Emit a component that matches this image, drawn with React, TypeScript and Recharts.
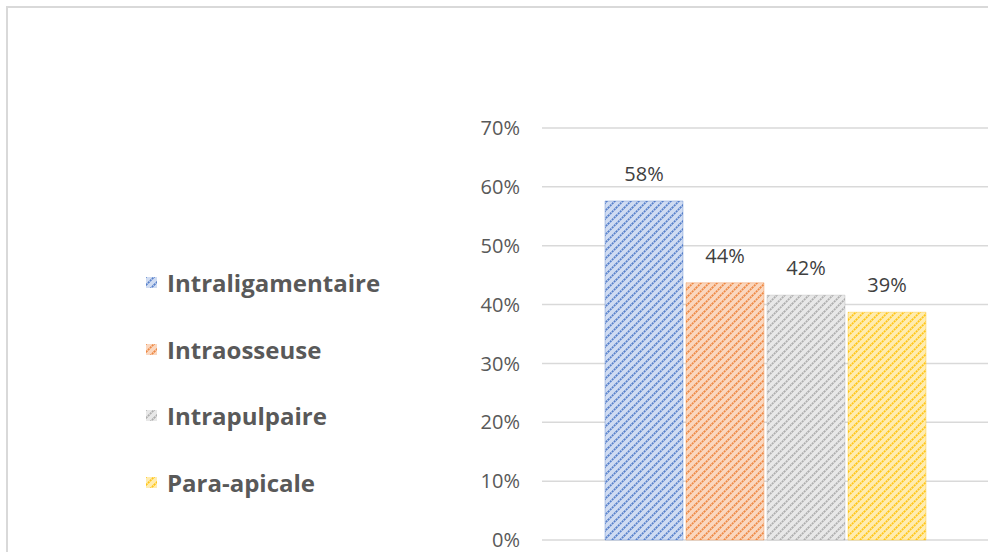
import React from 'react';
import { BarChart, Bar, XAxis, YAxis, CartesianGrid, LabelList, Legend } from 'recharts';

const categories = [''];
const seriesNames = ['Intraligamentaire', 'Intraosseuse', 'Intrapulpaire', 'Para-apicale'];
const seriesValues = [0.576, 0.437, 0.416, 0.387];
const seriesLabels = ['58%', '44%', '42%', '39%'];
const yTicks = [0, 0.1, 0.2, 0.3, 0.4, 0.5, 0.6, 0.7];

const colors = [
  { main: '#4472c4', light: '#d0dcf2' },
  { main: '#ed7d31', light: '#fad7bf' },
  { main: '#a5a5a5', light: '#e8e8e8' },
  { main: '#ffc000', light: '#ffecb0' },
];
const keys = ['s0', 's1', 's2', 's3'];

const data = categories.map((c) => {
  const row: any = { name: c };
  keys.forEach((k, i) => {
    row[k] = seriesValues[i];
  });
  return row;
});

const font = '"Open Sans", "Noto Sans", sans-serif';

const Patterns = () => (
  <svg width={0} height={0} style={{ position: 'absolute' }}>
    <defs>
      {colors.map((c, i) => (
        <pattern
          key={i}
          id={`hatch${i}`}
          patternUnits="userSpaceOnUse"
          width={8}
          height={8}
        >
          <rect width={8} height={8} fill={c.light} />
          <path
            d="M-1,1 L1,-1 M0,8 L8,0 M7,9 L9,7"
            stroke={c.main}
            strokeWidth={1.8}
            strokeOpacity={0.85}
            strokeDasharray="2 0.8"
          />
        </pattern>
      ))}
    </defs>
  </svg>
);

const LegendContent = () => (
  <div style={{ fontFamily: font }}>
    {seriesNames.map((n, i) => (
      <div
        key={n}
        style={{ display: 'flex', alignItems: 'center', height: 66.7 }}
      >
        <svg width={11} height={11} style={{ marginRight: 10 }}>
          <rect width={11} height={11} fill={`url(#hatch${i})`} />
        </svg>
        <span style={{ fontSize: 24, fontWeight: 700, color: '#595959' }}>{n}</span>
      </div>
    ))}
  </div>
);

export default function App() {
  return (
    <div
      style={{
        position: 'absolute',
        left: 0,
        top: 0,
        width: 988,
        height: 552,
        overflow: 'hidden',
        background: '#fff',
      }}
    >
      <Patterns />
      <div
        style={{
          position: 'absolute',
          left: 6,
          top: 6,
          width: 1000,
          height: 600,
          border: '2px solid #d9d9d9',
          boxSizing: 'border-box',
        }}
      />
      <div style={{ position: 'absolute', left: 0, top: 0 }}>
        <BarChart
          width={1000}
          height={560}
          data={data}
          margin={{ top: 128, right: 11, bottom: 20, left: 182 }}
          barGap={3}
        >
          <CartesianGrid vertical={false} stroke="#d9d9d9" strokeWidth={1.5} />
          <XAxis dataKey="name" hide />
          <YAxis
            width={60}
            domain={[0, 0.7]}
            ticks={yTicks}
            axisLine={false}
            tickLine={false}
            tickSize={0}
            tickMargin={22}
            tickFormatter={(v: number) => `${Math.round(v * 100)}%`}
            tick={{ fill: '#595959', fontSize: 20, fontFamily: font }}
          />
          <Legend
            layout="vertical"
            align="left"
            verticalAlign="top"
            content={<LegendContent />}
            width={300}
            wrapperStyle={{ left: 146, top: 249, width: 300 }}
          />
          {keys.map((k, i) => (
            <Bar
              key={k}
              dataKey={k}
              name={seriesNames[i]}
              barSize={78}
              fill={`url(#hatch${i})`}
              stroke={colors[i].main}
              strokeOpacity={0.35}
              strokeWidth={1}
              isAnimationActive={false}
            >
              <LabelList
                dataKey={k}
                position="top"
                offset={20}
                formatter={() => seriesLabels[i]}
                style={{ fill: '#404040', fontSize: 20, fontFamily: font }}
              />
            </Bar>
          ))}
        </BarChart>
      </div>
    </div>
  );
}
